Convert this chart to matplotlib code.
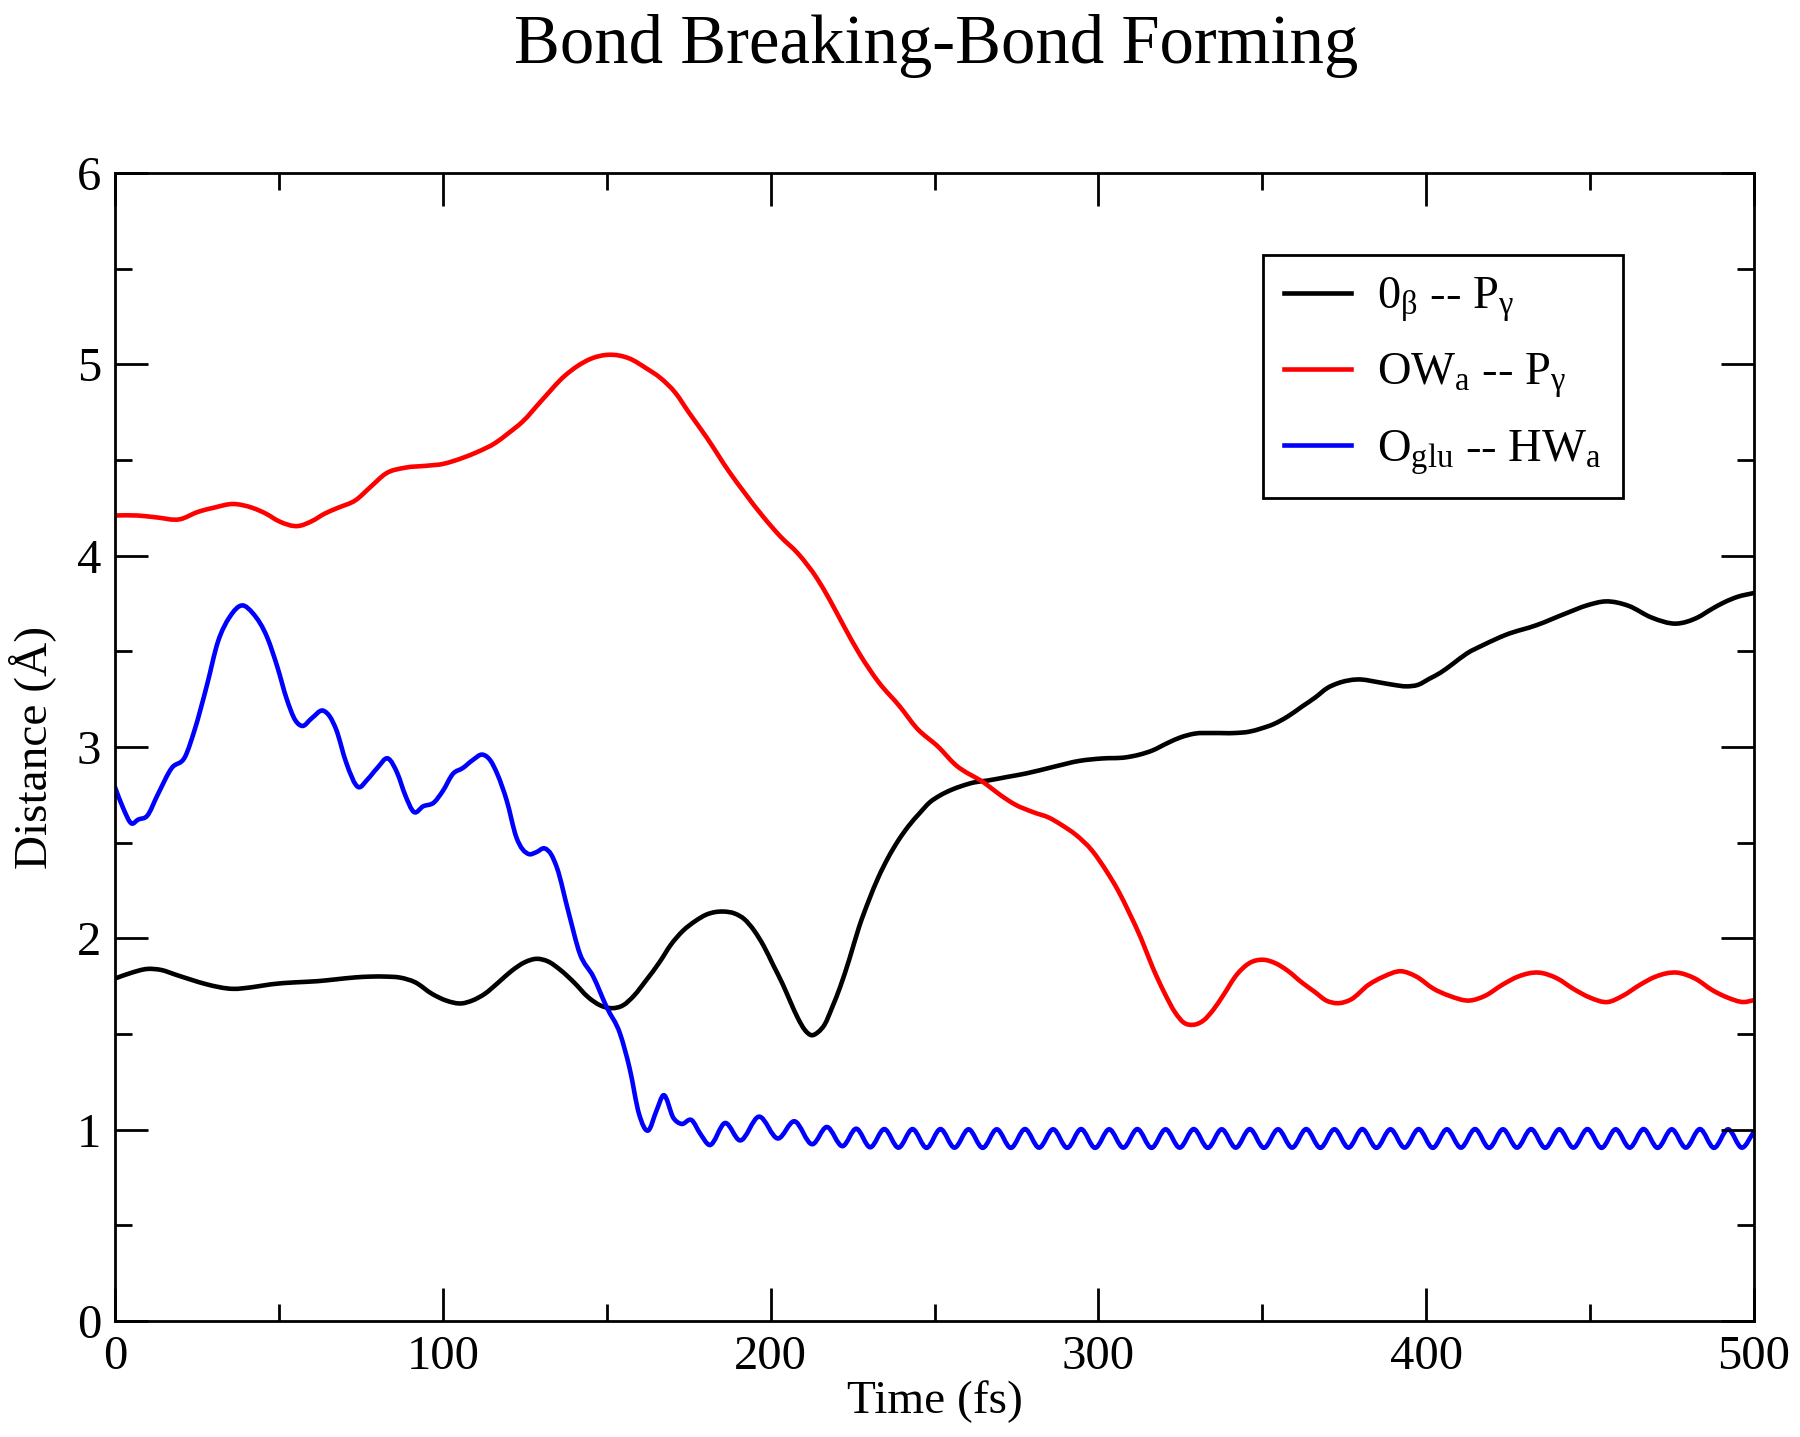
import numpy as np
import matplotlib
matplotlib.use("Agg")
import matplotlib.pyplot as plt
from matplotlib.path import Path
from matplotlib.patches import PathPatch
from matplotlib.lines import Line2D
from matplotlib.ticker import MultipleLocator

plt.rcParams['font.family'] = ['Liberation Serif', 'DejaVu Serif']
plt.rcParams['mathtext.fontset'] = 'custom'
plt.rcParams['mathtext.rm'] = 'Liberation Serif'
plt.rcParams['mathtext.it'] = 'Liberation Serif:italic'
plt.rcParams['mathtext.bf'] = 'Liberation Serif:bold'

# ---------------- data ----------------
title = "Bond Breaking-Bond Forming"
x_label = "Time (fs)"
y_label = "Distance (Å)"
x_ticks = [0, 100, 200, 300, 400, 500]
y_ticks = [0, 1, 2, 3, 4, 5, 6]

series_labels = [r"0$_{\mathrm{β}}$ -- P$_{\mathrm{γ}}$",
                 r"OW$_{\mathrm{a}}$ -- P$_{\mathrm{γ}}$",
                 r"O$_{\mathrm{glu}}$ -- HW$_{\mathrm{a}}$"]
series_colors = ["#000000", "#ff0000", "#0000ff"]

black_t = [0, 5, 9.8, 14, 18.5, 23, 27.9, 36, 42, 47.7, 55, 61.7, 67, 73.4, 78, 82.7,
           86.9, 91.6, 96.7, 101, 105.8, 109, 112.8, 117, 121, 125, 128.7, 132, 136.2,
           140, 144.3, 148, 151.6, 155, 158.3, 162, 166.3, 169.5, 173.3, 177, 180.4,
           185.6, 189, 192, 195, 197.9, 200.8, 203.7, 206, 208.4, 210.5, 212.4, 214.5,
           216.5, 218.8, 221.2, 224, 227, 230, 232.9, 235.8, 238.9, 242, 245.5, 248.5,
           251.5, 255, 258.1, 262.1, 266.3, 272, 278, 286, 294.4, 301, 308.4, 312.5,
           316.5, 321, 325, 329.4, 335, 341.5, 346, 349.7, 353.5, 357.8, 362, 366, 370,
           373, 378.9, 385.9, 390, 394, 397.5, 401, 404.5, 408, 412.5, 417.4, 424.4,
           433.7, 443, 449, 454.8, 461.7, 468.7, 476.4, 482.8, 487, 491, 495, 500]
black_v = [1.79, 1.82, 1.84, 1.835, 1.81, 1.785, 1.76, 1.736, 1.745, 1.76, 1.77, 1.776,
           1.785, 1.796, 1.80, 1.80, 1.795, 1.77, 1.71, 1.675, 1.66, 1.675, 1.71, 1.77,
           1.83, 1.875, 1.893, 1.88, 1.83, 1.77, 1.693, 1.65, 1.635, 1.65, 1.70, 1.78,
           1.88, 1.965, 2.04, 2.09, 2.124, 2.14, 2.13, 2.10, 2.04, 1.96, 1.86, 1.76,
           1.67, 1.58, 1.52, 1.494, 1.51, 1.55, 1.64, 1.745, 1.89, 2.06, 2.20, 2.32,
           2.42, 2.51, 2.585, 2.655, 2.71, 2.745, 2.775, 2.795, 2.815, 2.825, 2.843,
           2.862, 2.895, 2.928, 2.94, 2.946, 2.96, 2.982, 3.02, 3.05, 3.07, 3.073,
           3.073, 3.08, 3.097, 3.12, 3.16, 3.21, 3.257, 3.31, 3.333, 3.353, 3.337,
           3.325, 3.317, 3.325, 3.357, 3.39, 3.433, 3.49, 3.533, 3.587, 3.637, 3.701,
           3.74, 3.761, 3.738, 3.677, 3.645, 3.677, 3.72, 3.757, 3.785, 3.805]

red_t = [0, 6.8, 12.7, 19.7, 25.5, 30, 36, 41.9, 46, 50, 55.9, 60, 64, 68, 73.4, 78,
         82.7, 88.6, 95.1, 100.2, 103.3, 110.3, 116.1, 120, 124.3, 130.1, 137.2, 141,
         145.3, 150.6, 157, 162, 166.3, 171, 175, 180.4, 187.3, 192, 197.9, 203, 208.4,
         214.2, 218, 222.4, 227, 232.9, 239.5, 244.5, 251.2, 256.2, 265.4, 270, 274.5,
         280, 285, 289, 293.2, 298, 302.5, 306, 309.5, 313, 316.5, 320, 323.5, 326,
         328.8, 332, 335.2, 338, 342.2, 346, 350.3, 354, 357.8, 362, 366, 369.5, 373,
         377, 382.4, 387, 392.3, 397, 402.2, 407, 413.3, 418, 423.2, 428, 434.3, 440,
         444.8, 450, 455.3, 460, 465.2, 470, 476.4, 482, 487.5, 492, 496.9, 500]
red_v = [4.21, 4.21, 4.20, 4.19, 4.23, 4.25, 4.27, 4.25, 4.22, 4.18, 4.155, 4.18, 4.22,
         4.25, 4.29, 4.36, 4.43, 4.46, 4.47, 4.48, 4.495, 4.54, 4.59, 4.64, 4.70, 4.81,
         4.94, 4.99, 5.03, 5.05, 5.03, 4.98, 4.93, 4.85, 4.75, 4.62, 4.44, 4.33, 4.20,
         4.10, 4.01, 3.88, 3.77, 3.63, 3.49, 3.34, 3.21, 3.10, 3.00, 2.91, 2.81, 2.75,
         2.70, 2.66, 2.63, 2.59, 2.54, 2.46, 2.35, 2.25, 2.13, 2.00, 1.85, 1.72, 1.61,
         1.56, 1.548, 1.57, 1.63, 1.70, 1.81, 1.87, 1.888, 1.87, 1.83, 1.77, 1.72,
         1.675, 1.661, 1.68, 1.757, 1.80, 1.828, 1.80, 1.737, 1.70, 1.675, 1.70, 1.757,
         1.80, 1.821, 1.79, 1.737, 1.69, 1.667, 1.70, 1.757, 1.80, 1.821, 1.79, 1.727,
         1.69, 1.667, 1.677]

blue_t = [0, 2.5, 5.1, 7, 9.8, 13, 17.3, 21.4, 24.3, 28, 31.4, 35, 38.9, 42, 46.5, 49.5,
          52.4, 55, 57.1, 60, 63.5, 65.5, 67.5, 70.5, 74.3, 77, 80, 83.3, 86.2, 88.5,
          91.2, 94, 97.3, 100, 103.1, 106.1, 109, 112.2, 114.5, 116.6, 119.5, 122.4,
          126.3, 128.5, 131.1, 133, 134.8, 138.3, 141.8, 145.9, 150, 154.1, 157, 159.9,
          162.6, 165.2, 167.3, 170.4, 172.8, 175.9, 178.5, 181.3, 186.2, 190.6, 196.5,
          202.3, 207.2, 212.8, 217.1, 222.0,
          226.1, 230.4, 234.7, 239.0, 243.3, 247.6, 251.8, 256.1, 260.4, 264.7, 269.0,
          273.3, 277.6, 281.9, 286.2, 290.5, 294.7, 299.0, 303.3, 307.6, 311.9, 316.2,
          320.5, 324.8, 329.1, 333.4, 337.6, 341.9, 346.2, 350.5, 354.8, 359.1, 363.4,
          367.7, 372.0, 376.3, 380.5, 384.8, 389.1, 393.4, 397.7, 402.0, 406.3, 410.6,
          414.9, 419.2, 423.4, 427.7, 432.0, 436.3, 440.6, 444.9, 449.2, 453.5, 457.8,
          462.1, 466.3, 470.6, 474.9, 479.2, 483.5, 487.8, 492.1, 496.4, 500]
blue_v = [2.79, 2.68, 2.60, 2.62, 2.64, 2.75, 2.89, 2.95, 3.09, 3.32, 3.55, 3.68, 3.74,
          3.70, 3.57, 3.42, 3.25, 3.14, 3.11, 3.15, 3.19, 3.16, 3.09, 2.92, 2.79, 2.83,
          2.89, 2.94, 2.86, 2.75, 2.66, 2.69, 2.71, 2.77, 2.86, 2.89, 2.93, 2.96, 2.93,
          2.86, 2.72, 2.53, 2.44, 2.45, 2.47, 2.44, 2.37, 2.14, 1.92, 1.80, 1.64, 1.50,
          1.32, 1.08, 0.995, 1.10, 1.18, 1.06, 1.03, 1.05, 0.98, 0.92, 1.035, 0.944,
          1.068, 0.954, 1.044, 0.924, 1.014, 0.914,
          1.005, 0.908, 1.003, 0.906, 1.003, 0.905, 1.003, 0.906, 1.002, 0.905, 1.002,
          0.905, 1.003, 0.906, 1.002, 0.905, 1.003, 0.905, 1.002, 0.906, 1.003, 0.905,
          1.002, 0.906, 1.003, 0.905, 1.002, 0.906, 1.003, 0.905, 1.002, 0.906, 1.003,
          0.905, 1.002, 0.906, 1.003, 0.905, 1.002, 0.906, 1.003, 0.905, 1.002, 0.906,
          1.003, 0.905, 1.002, 0.906, 1.003, 0.905, 1.002, 0.906, 1.003, 0.905, 1.002,
          0.906, 1.003, 0.905, 1.002, 0.906, 1.003, 0.905, 1.002, 0.906, 0.99]

series = [(black_t, black_v), (red_t, red_v), (blue_t, blue_v)]


def smooth_path(t, v):
    """Cubic Hermite (Bezier) path passing through every data point."""
    t = np.asarray(t, float)
    v = np.asarray(v, float)
    m = np.gradient(v, t)
    verts = [(t[0], v[0])]
    codes = [Path.MOVETO]
    for i in range(len(t) - 1):
        h = t[i + 1] - t[i]
        verts += [(t[i] + h / 3, v[i] + m[i] * h / 3),
                  (t[i + 1] - h / 3, v[i + 1] - m[i + 1] * h / 3),
                  (t[i + 1], v[i + 1])]
        codes += [Path.CURVE4] * 3
    return Path(verts, codes)


fig = plt.figure(figsize=(18, 14.37), dpi=100)
ax = fig.add_axes([0.06389, 0.08072, 0.91056, 0.79889])

LW = 3.3
handles = []
for (t, v), col, lab in zip(series, series_colors, series_labels):
    patch = PathPatch(smooth_path(t, v), facecolor='none', edgecolor=col, lw=LW,
                      transform=ax.transData, capstyle='round', joinstyle='round')
    ax.add_patch(patch)
    handles.append(Line2D([], [], color=col, lw=LW, label=lab))

ax.set_xlim(0, 500)
ax.set_ylim(0, 6)
ax.set_xticks(x_ticks)
ax.set_yticks(y_ticks)
ax.xaxis.set_minor_locator(MultipleLocator(50))
ax.yaxis.set_minor_locator(MultipleLocator(0.5))
ax.tick_params(which='both', direction='in', top=True, right=True, width=2,
               labelsize=35, pad=10)
ax.tick_params(which='major', length=24)
ax.tick_params(which='minor', length=12)
for sp in ax.spines.values():
    sp.set_linewidth(2)

ax.set_xlabel(x_label, fontsize=34, va='top')
ax.xaxis.set_label_coords(0.5, -0.052)
ax.set_ylabel(y_label, fontsize=34)
ax.yaxis.set_label_coords(-0.036, 0.5)

fig.text(0.52, 0.9562, title, fontsize=49.5, ha='center', va='baseline')

leg = ax.legend(handles=handles, loc='upper left', bbox_to_anchor=(0.7004, 0.9286),
                borderaxespad=0, fontsize=33.5, handlelength=1.44, handletextpad=0.56,
                labelspacing=0.6, borderpad=0.45, fancybox=False, framealpha=1,
                edgecolor='black')
leg.get_frame().set_linewidth(2)

fig.savefig("out.png", dpi=100)
